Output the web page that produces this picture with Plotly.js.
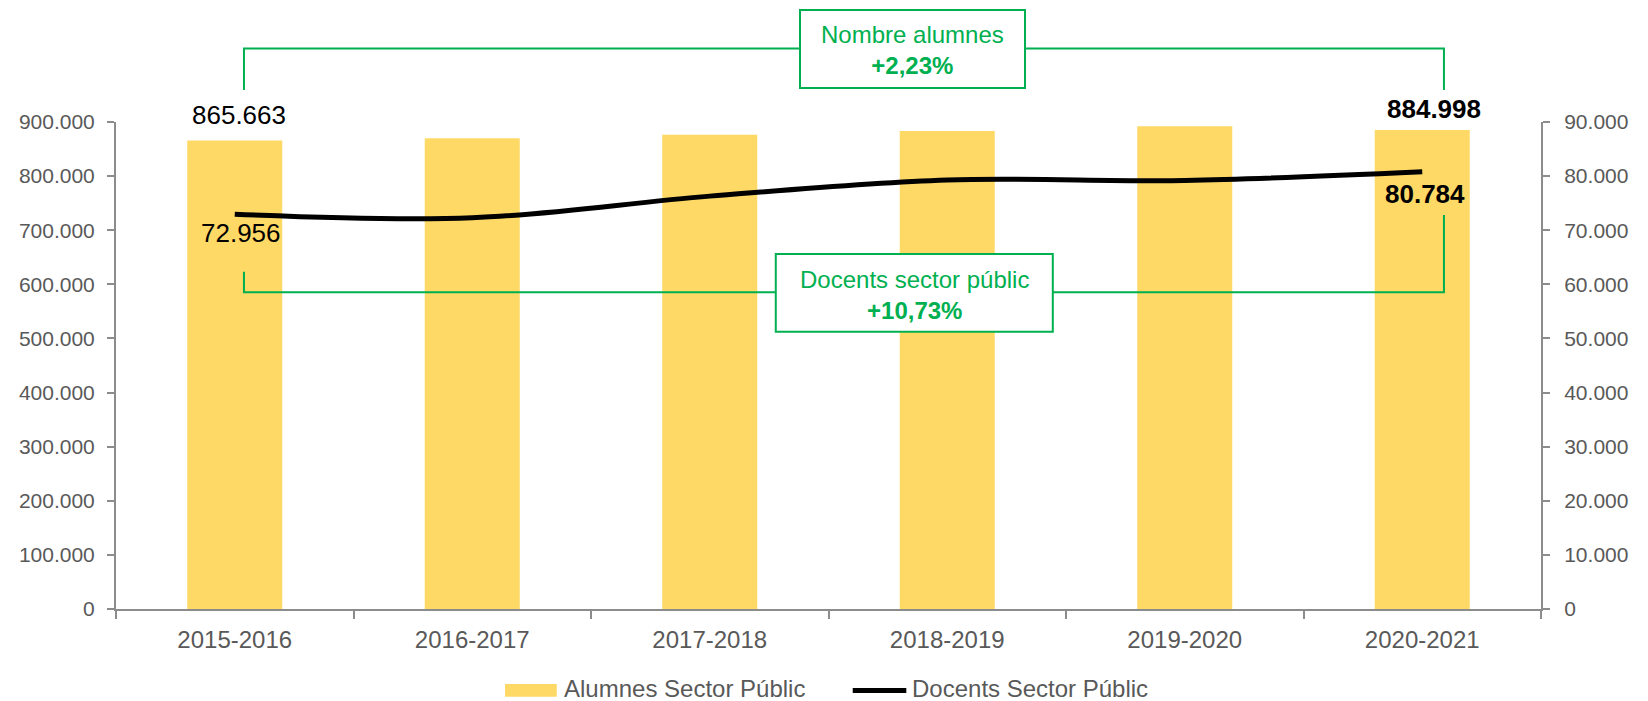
<!DOCTYPE html>
<html>
<head>
<meta charset="utf-8">
<script src="https://cdn.plot.ly/plotly-3.0.1.min.js"></script>
<style>
  html, body { margin: 0; padding: 0; background: #ffffff; }
  #chart { width: 1648px; height: 701px; }
</style>
</head>
<body>
<div id="chart"></div>
<script>
// ---- Data ----
const categories = ['2015-2016', '2016-2017', '2017-2018', '2018-2019', '2019-2020', '2020-2021'];
const alumnes = [865663, 869800, 876300, 883500, 892300, 884998];
const docents = [72956, 72300, 76300, 79300, 79200, 80784];
const seriesNames = ['Alumnes Sector Públic', 'Docents Sector Públic'];
const boxTitles = ['Nombre alumnes', 'Docents sector públic'];

// ---- Helpers ----
const fmtInt = v => Math.round(v).toString().replace(/\B(?=(\d{3})+(?!\d))/g, '.');
const pctChange = arr => {
  const p = (arr[arr.length - 1] / arr[0] - 1) * 100;
  return (p >= 0 ? '+' : '') + p.toFixed(2).replace('.', ',') + '%';
};

const GREEN = '#00B050';
const GRAY = '#595959';
const AXIS = '#8c8c8c';
const BAR = '#FFD966';
const FONT = 'Liberation Sans, Arial, Helvetica, sans-serif';
const last = categories.length - 1;

const traces = [
  {
    type: 'bar',
    name: seriesNames[0],
    x: categories,
    y: alumnes,
    width: 0.4,
    marker: { color: BAR },
    hoverinfo: 'skip',
    showlegend: false
  },
  {
    type: 'scatter',
    mode: 'lines',
    name: seriesNames[1],
    x: categories,
    y: docents,
    yaxis: 'y2',
    line: { color: '#000000', width: 5, shape: 'spline', smoothing: 1 },
    hoverinfo: 'skip',
    showlegend: false
  }
];

// bracket / box / legend geometry (paper coordinates)
const shapes = [
  // top bracket
  { type: 'path', xref: 'paper', yref: 'paper',
    path: 'M0.0898,1.0657 L0.0898,1.1509 L0.9319,1.1509 L0.9319,1.0657',
    line: { color: GREEN, width: 2 } },
  { type: 'rect', xref: 'paper', yref: 'paper', x0: 0.4800, x1: 0.6379, y0: 1.0698, y1: 1.2300,
    fillcolor: '#ffffff', line: { color: GREEN, width: 2 } },
  // bottom bracket
  { type: 'path', xref: 'paper', yref: 'paper', layer: 'above',
    path: 'M0.0898,0.6926 L0.0898,0.6503 L0.9319,0.6503 L0.9319,0.8090',
    line: { color: GREEN, width: 2 } },
  { type: 'rect', xref: 'paper', yref: 'paper', layer: 'above', x0: 0.4630, x1: 0.6574, y0: 0.5694, y1: 0.7290,
    fillcolor: '#ffffff', line: { color: GREEN, width: 2 } },
  // legend symbols
  { type: 'rect', xref: 'paper', yref: 'paper', x0: 0.2730, x1: 0.3093, y0: -0.1800, y1: -0.1540,
    fillcolor: BAR, line: { width: 0 } },
  { type: 'line', xref: 'paper', yref: 'paper', x0: 0.5170, x1: 0.5546, y0: -0.1674, y1: -0.1674,
    line: { color: '#000000', width: 5 } }
];

const annotations = [
  { xref: 'paper', yref: 'paper', x: 0.5589, y: 1.1478, xanchor: 'center', yanchor: 'middle', showarrow: false,
    text: boxTitles[0] + '<br><b>' + pctChange(alumnes) + '</b>',
    font: { family: FONT, size: 24, color: GREEN }, align: 'center' },
  { xref: 'paper', yref: 'paper', x: 0.5600, y: 0.6454, xanchor: 'center', yanchor: 'middle', showarrow: false,
    text: boxTitles[1] + '<br><b>' + pctChange(docents) + '</b>',
    font: { family: FONT, size: 24, color: GREEN }, align: 'center' },
  // data labels
  { xref: 'x', yref: 'y', x: categories[0], y: alumnes[0], showarrow: false,
    xanchor: 'center', yanchor: 'middle',
    text: fmtInt(alumnes[0]), xshift: 4, yshift: 26,
    font: { family: FONT, size: 26, color: '#000000' } },
  { xref: 'x', yref: 'y', x: categories[last], y: alumnes[last], showarrow: false,
    xanchor: 'center', yanchor: 'middle',
    text: '<b>' + fmtInt(alumnes[last]) + '</b>', xshift: 12, yshift: 21,
    font: { family: FONT, size: 26, color: '#000000' } },
  { xref: 'x', yref: 'y2', x: categories[0], y: docents[0], showarrow: false,
    xanchor: 'center', yanchor: 'middle',
    text: fmtInt(docents[0]), xshift: 6, yshift: -19,
    font: { family: FONT, size: 26, color: '#000000' } },
  { xref: 'x', yref: 'y2', x: categories[last], y: docents[last], showarrow: false,
    xanchor: 'center', yanchor: 'middle',
    text: '<b>' + fmtInt(docents[last]) + '</b>', xshift: 3, yshift: -22,
    font: { family: FONT, size: 26, color: '#000000' } },
  // legend labels
  { xref: 'paper', yref: 'paper', x: 0.3128, y: -0.1622, xanchor: 'left', yanchor: 'middle', showarrow: false,
    height: 24, valign: 'middle',
    text: seriesNames[0], font: { family: FONT, size: 24, color: GRAY } },
  { xref: 'paper', yref: 'paper', x: 0.5570, y: -0.1622, xanchor: 'left', yanchor: 'middle', showarrow: false,
    height: 24, valign: 'middle',
    text: seriesNames[1], font: { family: FONT, size: 24, color: GRAY } }
];

const layout = {
  width: 1648,
  height: 701,
  margin: { l: 116, r: 107, t: 122, b: 92, pad: 0 },
  paper_bgcolor: '#ffffff',
  plot_bgcolor: '#ffffff',
  separators: ',.',
  font: { family: FONT, color: GRAY },
  showlegend: false,
  xaxis: {
    type: 'category',
    range: [-0.5, 5.5],
    showline: true, linecolor: AXIS, linewidth: 2,
    ticks: 'outside', tickson: 'boundaries', ticklen: 8, tickcolor: AXIS, tickwidth: 2,
    tickfont: { family: FONT, size: 24, color: GRAY },
    ticklabelstandoff: 8,
    showgrid: false, zeroline: false, fixedrange: true
  },
  yaxis: {
    range: [0, 900000], dtick: 100000, tickformat: ',d',
    showline: true, linecolor: AXIS, linewidth: 2,
    ticks: 'outside', ticklen: 7, tickcolor: AXIS, tickwidth: 2,
    tickfont: { family: FONT, size: 21, color: GRAY },
    ticklabelstandoff: 8,
    showgrid: false, zeroline: false, fixedrange: true
  },
  yaxis2: {
    overlaying: 'y', side: 'right',
    range: [0, 90000], dtick: 10000, tickformat: ',d',
    showline: true, linecolor: AXIS, linewidth: 2,
    ticks: 'outside', ticklen: 7, tickcolor: AXIS, tickwidth: 2,
    tickfont: { family: FONT, size: 21, color: GRAY },
    ticklabelstandoff: 10,
    showgrid: false, zeroline: false, fixedrange: true
  },
  shapes: shapes,
  annotations: annotations
};

Plotly.newPlot('chart', traces, layout, { displayModeBar: false, staticPlot: true });
</script>
</body>
</html>
